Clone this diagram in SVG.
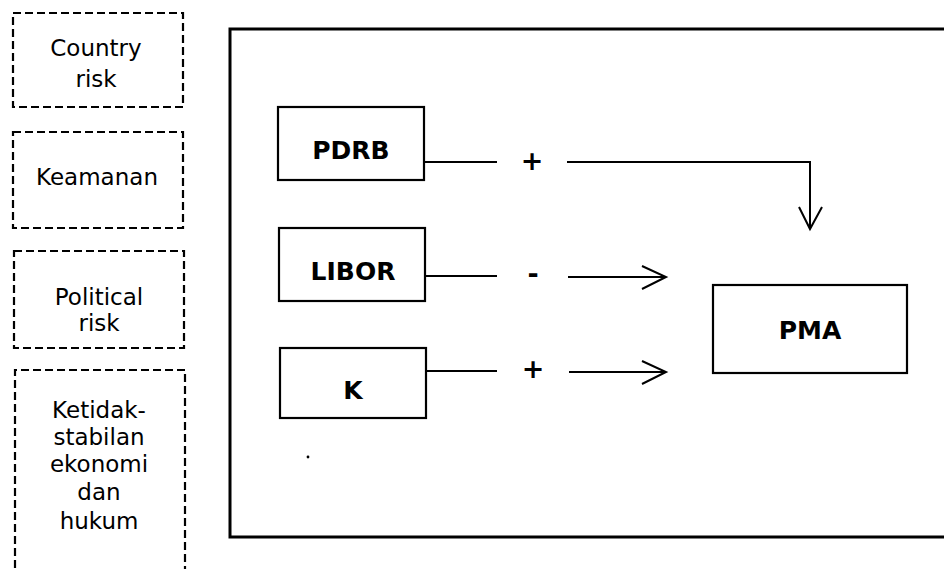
<svg xmlns="http://www.w3.org/2000/svg" width="944" height="569" viewBox="0 0 944 569">
  <style>
    .dash { fill: none; stroke: #000; stroke-width: 2.2; stroke-dasharray: 8 4; }
    .box { fill: #fff; stroke: #000; stroke-width: 2.2; }
    .frame { fill: none; stroke: #000; stroke-width: 3; }
    .side { font-family: "DejaVu Sans", Verdana, sans-serif; font-size: 23px; fill: #000; text-anchor: middle; }
    .var { font-family: "DejaVu Sans", Verdana, sans-serif; font-weight: bold; font-size: 25px; fill: #000; text-anchor: middle; }
    .sign { font-family: "DejaVu Sans", Verdana, sans-serif; font-weight: bold; font-size: 27px; fill: #000; text-anchor: middle; }
    .wire { fill: none; stroke: #000; stroke-width: 2; }
    .head { fill: none; stroke: #000; stroke-width: 2; stroke-linejoin: miter; }
  </style>

  <!-- external factors, dashed boxes on the left -->
  <g id="country-risk">
    <rect class="dash" x="13" y="13" width="170" height="94"/>
    <text class="side" x="96" y="56">Country</text>
    <text class="side" x="96" y="87">risk</text>
  </g>
  <g id="keamanan">
    <rect class="dash" x="13" y="132" width="170" height="96"/>
    <text class="side" x="97" y="185">Keamanan</text>
  </g>
  <g id="political-risk">
    <rect class="dash" x="14" y="251" width="170" height="97"/>
    <text class="side" x="99" y="305">Political</text>
    <text class="side" x="99" y="331">risk</text>
  </g>
  <g id="ketidakstabilan">
    <path class="dash" d="M15,580 V370 H185 V580"/>
    <text class="side" x="99" y="418">Ketidak-</text>
    <text class="side" x="99" y="445">stabilan</text>
    <text class="side" x="99" y="472">ekonomi</text>
    <text class="side" x="99" y="500">dan</text>
    <text class="side" x="99" y="529">hukum</text>
  </g>

  <!-- model frame, open on the right -->
  <g id="model-frame">
    <path class="frame" d="M946,29 H230 V537 H946"/>
    <circle cx="308" cy="457" r="1.4" fill="#000"/>
  </g>

  <!-- variables -->
  <g id="pdrb">
    <rect class="box" x="278" y="107" width="146" height="73"/>
    <text class="var" x="351" y="159">PDRB</text>
  </g>
  <g id="libor">
    <rect class="box" x="279" y="228" width="146" height="73"/>
    <text class="var" x="353" y="280">LIBOR</text>
  </g>
  <g id="k">
    <rect class="box" x="280" y="348" width="146" height="70"/>
    <text class="var" x="353" y="399">K</text>
  </g>
  <g id="pma">
    <rect class="box" x="713" y="285" width="194" height="88"/>
    <text class="var" x="810" y="339">PMA</text>
  </g>

  <!-- connectors with sign labels -->
  <g id="connectors">
    <path class="wire" d="M424,162 H497"/>
    <path class="wire" d="M567,162 H810 V229"/>
    <path class="head" d="M799,207 L810,229 L822,207"/>
    <text class="sign" x="532" y="170">+</text>

    <path class="wire" d="M425,276 H497"/>
    <path class="wire" d="M568,277 H666"/>
    <path class="head" d="M642,266 L666,277 L642,289"/>
    <text class="sign" x="533" y="283">-</text>

    <path class="wire" d="M426,371 H497"/>
    <path class="wire" d="M569,372 H666"/>
    <path class="head" d="M642,361 L666,372 L642,384"/>
    <text class="sign" x="533" y="378">+</text>
  </g>
</svg>
